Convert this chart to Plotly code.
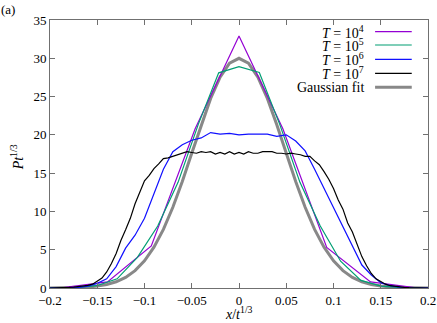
import plotly.graph_objects as go

# ---- data ----
x_T4 = [-0.232, -0.1856, -0.1392, -0.0928, -0.0464, 0.0, 0.0464, 0.0928, 0.1392, 0.1856, 0.232]
p_T4 = [0.0, 0.05, 0.8, 5.5, 20.8, 32.9, 20.8, 5.3, 0.8, 0.05, 0.0]

x_T5 = [-0.215, -0.1935, -0.172, -0.1505, -0.129, -0.1075, -0.086, -0.0645, -0.043, -0.0215, 0.0,
        0.0215, 0.043, 0.0645, 0.086, 0.1075, 0.129, 0.1505, 0.172, 0.1935, 0.215]
p_T5 = [0.0, 0.0, 0.05, 0.3, 1.2, 4.0, 8.1, 13.8, 21.4, 28.1, 28.9,
        28.15, 21.4, 13.8, 8.1, 3.5, 1.0, 0.25, 0.05, 0.0, 0.0]

x_T6 = [-0.20, -0.19, -0.18, -0.17, -0.16, -0.15, -0.14, -0.13, -0.12, -0.11, -0.10, -0.09, -0.08,
        -0.07, -0.06, -0.05, -0.04, -0.03, -0.02, -0.01, 0.0, 0.01, 0.02, 0.03, 0.04, 0.05, 0.06,
        0.07, 0.08, 0.09, 0.10, 0.11, 0.12, 0.13, 0.14, 0.15, 0.16, 0.17, 0.18, 0.19, 0.20]
p_T6 = [0.0, 0.0, 0.02, 0.08, 0.25, 0.6, 1.2, 2.8, 5.2, 6.9, 9.1, 12.3, 15.5,
        17.8, 18.7, 19.3, 19.6, 20.3, 20.1, 20.2, 20.0, 20.1, 20.1, 20.1, 19.8, 20.0, 19.2,
        17.9, 15.5, 13.0, 10.5, 8.0, 5.6, 3.0, 1.7, 0.7, 0.3, 0.1, 0.03, 0.0, 0.0]

x_T7 = [round(-0.2 + 0.005 * i, 3) for i in range(81)]
p_T7 = [0.0, 0.0, 0.02, 0.05, 0.08, 0.12, 0.18, 0.28, 0.35, 0.5, 0.9, 1.3, 2.1, 3.2, 4.5, 6.2,
        7.6, 9.1, 11.0, 12.6, 14.0, 14.7, 15.6, 16.2, 16.9, 17.0, 17.2, 17.5, 17.6, 17.8, 17.7,
        17.6, 17.8, 17.7, 17.8, 17.5, 17.7, 17.5, 17.8, 17.5, 17.7, 17.5, 17.8, 17.6, 17.6, 17.8,
        17.8, 17.8, 17.6, 17.6, 17.5, 17.6, 17.5, 17.4, 17.2, 17.2, 16.6, 16.1, 15.2, 14.2, 13.0,
        11.5, 10.3, 8.5, 7.3, 5.6, 4.1, 2.9, 1.9, 1.2, 0.8, 0.5, 0.3, 0.2, 0.12, 0.08, 0.05, 0.03,
        0.02, 0.0, 0.0]

x_fit = [-0.20, -0.19, -0.18, -0.17, -0.16, -0.15, -0.14, -0.13, -0.12, -0.11, -0.10, -0.09, -0.08,
         -0.07, -0.06, -0.05, -0.04, -0.03, -0.02, -0.01, 0.0, 0.01, 0.02, 0.03, 0.04, 0.05, 0.06,
         0.07, 0.08, 0.09, 0.10, 0.11, 0.12, 0.13, 0.14, 0.15, 0.16, 0.17, 0.18, 0.19, 0.20]
p_fit = [0.0, 0.01, 0.03, 0.06, 0.13, 0.25, 0.46, 0.81, 1.39, 2.27, 3.55, 5.33, 7.65,
         10.54, 13.91, 17.60, 21.32, 24.76, 27.55, 29.37, 30.0, 29.37, 27.55, 24.76, 21.32, 17.60,
         13.91, 10.54, 7.65, 5.33, 3.55, 2.27, 1.39, 0.81, 0.46, 0.25, 0.13, 0.06, 0.03, 0.01, 0.0]

series = [
    ("<i>T</i> = 10<sup>4</sup>", x_T4, p_T4, "#9400D3", 1.2),
    ("<i>T</i> = 10<sup>5</sup>", x_T5, p_T5, "#009E73", 1.2),
    ("<i>T</i> = 10<sup>6</sup>", x_T6, p_T6, "#1010FF", 1.2),
    ("<i>T</i> = 10<sup>7</sup>", x_T7, p_T7, "#000000", 1.2),
]

x_ticks = [-0.2, -0.15, -0.1, -0.05, 0, 0.05, 0.1, 0.15, 0.2]
x_ticklabels = ["\u22120.2", "\u22120.15", "\u22120.1", "\u22120.05", "0", "0.05", "0.1", "0.15", "0.2"]
y_ticks = [0, 5, 10, 15, 20, 25, 30, 35]

FONT = "'Liberation Serif', 'DejaVu Serif', serif"
TXT = dict(family=FONT, size=14, color="#000")
TICK = dict(family=FONT, size=13, color="#000")

fig = go.Figure()
fig.add_trace(go.Scatter(x=x_fit, y=p_fit, mode="lines",
                         line=dict(color="#888888", width=3), showlegend=False))
for name, xs, ys, col, w in series:
    fig.add_trace(go.Scatter(x=xs, y=ys, mode="lines", name=name,
                             line=dict(color=col, width=w), showlegend=False))

legend_rows = [(s[0], s[3], s[4]) for s in series] + [("Gaussian fit", "#888888", 3)]
row_y = [0.9563, 0.9067, 0.8534, 0.801, 0.7489]
for (label, col, w), yy in zip(legend_rows, row_y):
    fig.add_annotation(xref="paper", yref="paper", x=0.837, y=yy, text=label,
                       showarrow=False, xanchor="right", yanchor="middle", font=TXT)
    fig.add_shape(type="line", xref="paper", yref="paper", x0=0.86, x1=0.957, y0=yy, y1=yy,
                  line=dict(color=col, width=w))

fig.add_annotation(xref="paper", yref="paper", x=-0.112, y=1.04, text="(a)",
                   showarrow=False, xanchor="center", yanchor="middle", font=TICK)
# axis titles
fig.add_annotation(xref="paper", yref="paper", x=0.5, y=-0.093,
                   text="<i>x</i>/<i>t</i><sup>1/3</sup>",
                   showarrow=False, xanchor="center", yanchor="middle", font=TXT)
fig.add_annotation(xref="paper", yref="paper", x=-0.087, y=0.488,
                   text="<i>P</i><i>t</i><sup>1/3</sup>", textangle=-90,
                   showarrow=False, xanchor="center", yanchor="middle", font=TXT)

axis_common = dict(showline=True, mirror="allticks", linecolor="#707070", linewidth=1,
                   ticks="inside", ticklen=5, tickcolor="#707070", tickwidth=1,
                   showgrid=False, zeroline=False, automargin=False,
                   tickfont=TICK)

fig.update_xaxes(range=[-0.2, 0.2], tickvals=x_ticks, ticktext=x_ticklabels, **axis_common)
fig.update_yaxes(range=[0, 35], tickvals=y_ticks, **axis_common)

fig.update_layout(width=437, height=323, margin=dict(l=50, r=9, t=20, b=35),
                  font=dict(family=FONT),
                  plot_bgcolor="white", paper_bgcolor="white", showlegend=False)

fig.write_html("out.html", config={"displayModeBar": False},
               post_script="document.body.style.margin='0px';document.body.style.overflow='hidden';")
